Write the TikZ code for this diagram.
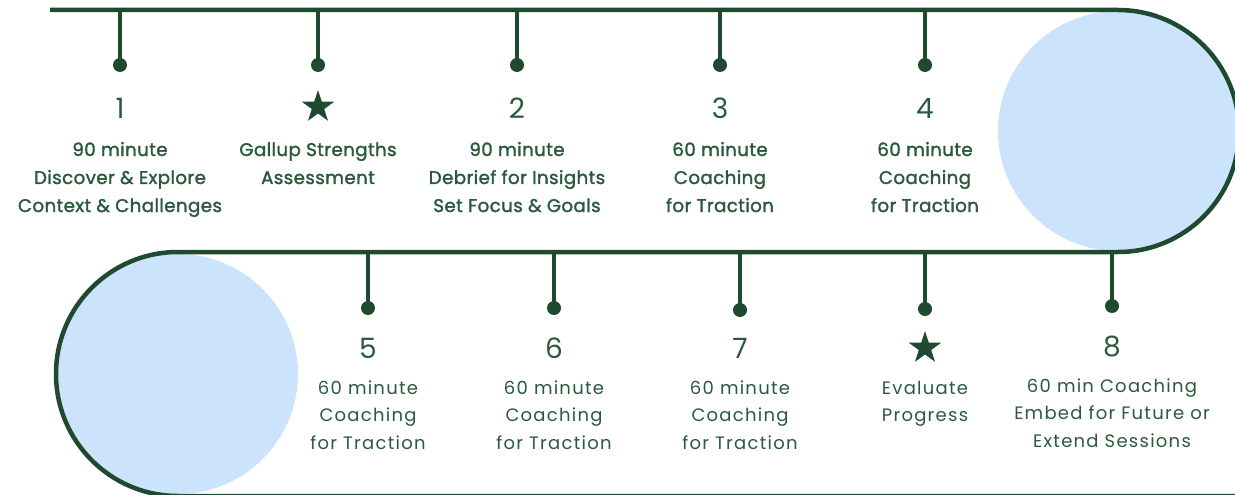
\documentclass[tikz,border=0pt]{standalone}
\usepackage{fontspec}
\setmainfont{Poppins}
\newfontfamily\semib{Poppins}[FakeBold=1.6, LetterSpace=2]
\newfontfamily\spaced{Poppins}[LetterSpace=7]
\usetikzlibrary{shapes.geometric}
\definecolor{dgreen}{HTML}{1F4A30}
\definecolor{tgreen}{HTML}{2A5A3C}
\definecolor{lblue}{HTML}{CCE3FC}
\newcommand\lbl[1]{\begin{tabular}[t]{@{}c@{}}#1\end{tabular}}
\tikzset{
  x=1pt, y=-1pt,
  track/.style={draw=dgreen, line width=4.5pt},
  stem/.style={draw=dgreen, line width=4.5pt},
  dotnode/.style={circle, fill=dgreen, minimum size=14pt, inner sep=0pt},
  starnode/.style={star, star points=5, star point ratio=2.6, fill=dgreen, minimum size=34pt, inner sep=0pt},
  numtext/.style={anchor=base, inner sep=0pt, text=tgreen, font=\fontsize{28}{30}\selectfont},
  toptext/.style={anchor=base, inner sep=0pt, text=tgreen, font=\semib\fontsize{18.3}{28}\selectfont},
  bottext/.style={anchor=base, inner sep=0pt, text=tgreen, font=\spaced\fontsize{18}{27.5}\selectfont},
}
\begin{document}
\begin{tikzpicture}
\useasboundingbox (0,0) rectangle (1235,495);
% light blue circles
\fill[lblue] (1118,131) circle[radius=120];
\fill[lblue] (178,374) circle[radius=120];
% track
\coordinate (start) at (50,10);
\coordinate (rtop) at (1118,10);
\coordinate (lbot) at (178,496);
\coordinate (fin) at (1240,496);
\draw[track] (start) -- (rtop) arc[start angle=-90, end angle=90, radius=121] -- (178,252) arc[start angle=270, end angle=90, radius=122] -- (fin);
% top row
\foreach \i/\x in {a/120, b/318, c/517, d/720, e/925}{
  \coordinate (t\i) at (\x,8);
  \node[dotnode] (d\i) at (\x,65) {};
  \draw[stem] (t\i) -- (d\i.center);
}
\node[numtext] (n1) at (120,118) {1};
\node[starnode] (s1) at (318,107) {};
\node[numtext] (n2) at (517,118) {2};
\node[numtext] (n3) at (720,118) {3};
\node[numtext] (n4) at (925,118) {4};
\node[toptext] (x1) at (120,156) {\lbl{90 minute\\Discover \& Explore\\Context \& Challenges}};
\node[toptext] (x2) at (318,156) {\lbl{Gallup Strengths\\Assessment}};
\node[toptext] (x3) at (517,156) {\lbl{90 minute\\Debrief for Insights\\Set Focus \& Goals}};
\node[toptext] (x4) at (720,156) {\lbl{60 minute\\Coaching\\for Traction}};
\node[toptext] (x5) at (925,156) {\lbl{60 minute\\Coaching\\for Traction}};
% bottom row
\foreach \i/\x/\y in {f/368/308, g/554/308, h/740/310, k/925/309, m/1112/306}{
  \coordinate (t\i) at (\x,250);
  \node[dotnode] (d\i) at (\x,\y) {};
  \draw[stem] (t\i) -- (d\i.center);
}
\node[numtext] (n5) at (368,358) {5};
\node[numtext] (n6) at (554,358) {6};
\node[numtext] (n7) at (740,358) {7};
\node[starnode] (s2) at (925,348) {};
\node[numtext] (n8) at (1112,356) {8};
\node[bottext] (x6) at (368,394) {\lbl{60 minute\\Coaching\\for Traction}};
\node[bottext] (x7) at (554,394) {\lbl{60 minute\\Coaching\\for Traction}};
\node[bottext] (x8) at (740,394) {\lbl{60 minute\\Coaching\\for Traction}};
\node[bottext] (x9) at (925,394) {\lbl{Evaluate\\Progress}};
\node[bottext] (x10) at (1112,392) {\lbl{60 min Coaching\\Embed for Future or\\Extend Sessions}};
\end{tikzpicture}
\end{document}
